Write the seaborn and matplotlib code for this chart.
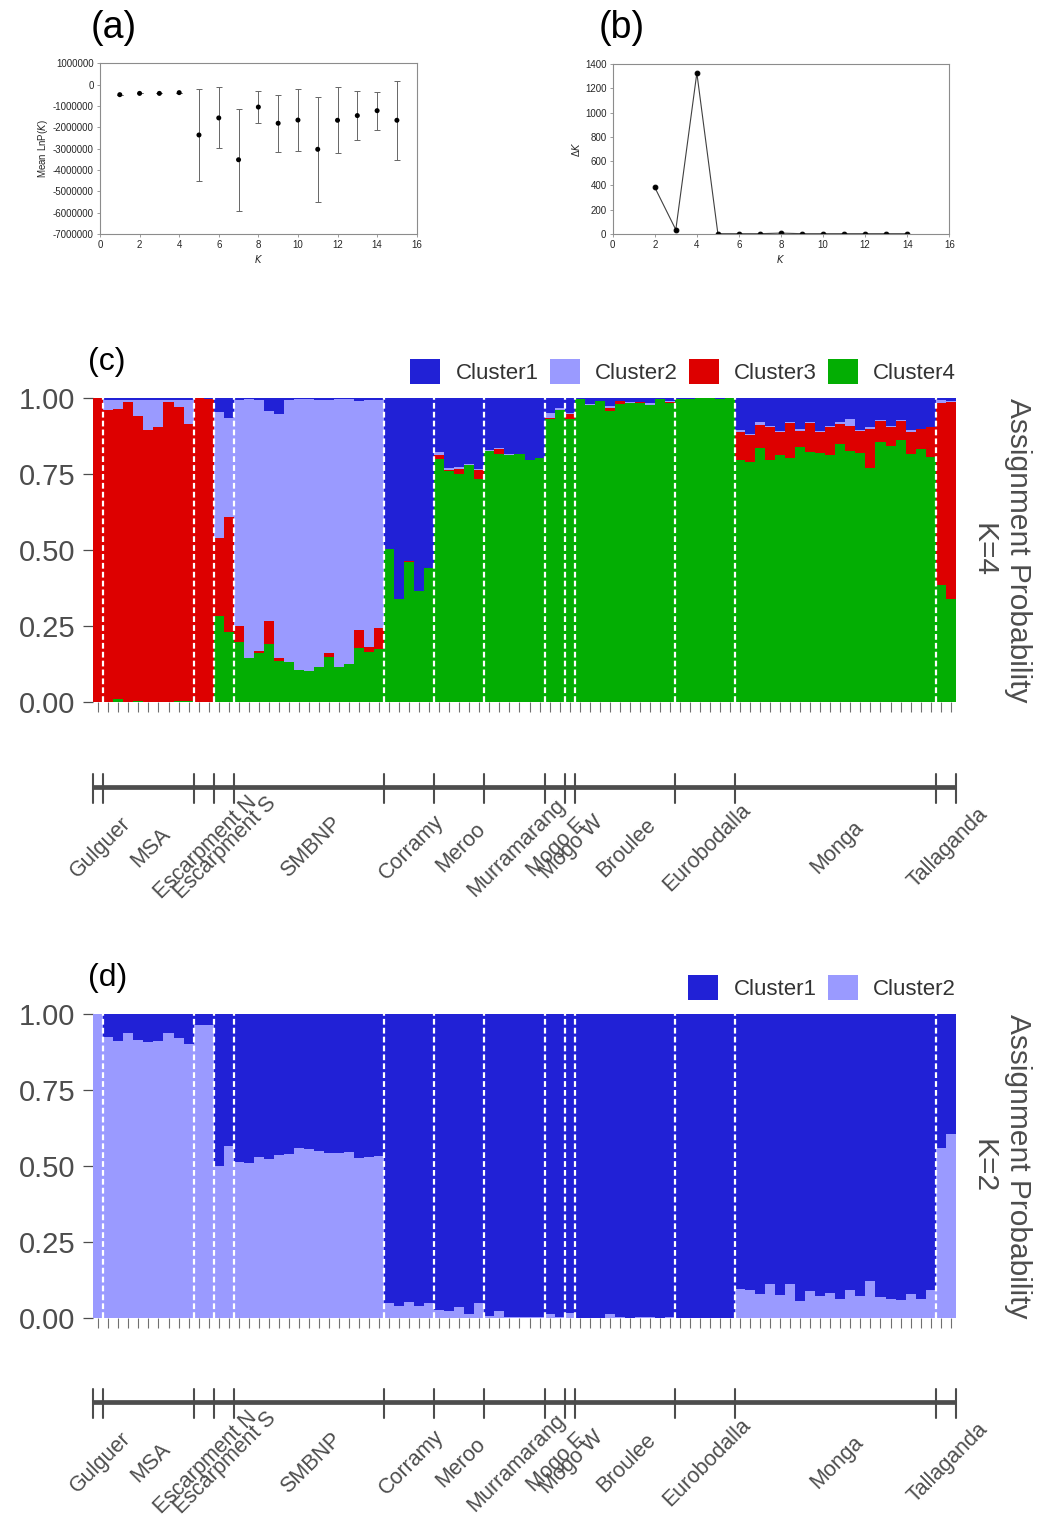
import matplotlib
matplotlib.use("Agg")
import matplotlib.pyplot as plt
import numpy as np
import pandas as pd
import seaborn as sns
from matplotlib.patches import Patch

# ---- panel (a): mean LnP(K) ----
K_A = list(range(1, 16))
MEAN_LNPK = [-470000, -410000, -410000, -375000, -2360000, -1560000, -3520000, -1050000,
             -1810000, -1660000, -3030000, -1670000, -1450000, -1220000, -1670000]
SD_LNPK = [0, 0, 0, 0, 2150000, 1430000, 2380000, 730000,
           1340000, 1440000, 2460000, 1550000, 1140000, 890000, 1840000]

# ---- panel (b): delta K ----
K_B = list(range(2, 15))
DELTA_K = [383, 33, 1328, 0, 0, 0, 5, 0, 0, 0, 0, 0, 0]

# ---- populations ----
POPS = ["Gulguer", "MSA", "Escarpment N", "Escarpment S", "SMBNP", "Corramy", "Meroo",
        "Murramarang", "Mogo E", "Mogo W", "Broulee", "Eurobodalla", "Monga", "Tallaganda"]
POP_N = [1, 9, 2, 2, 15, 5, 5, 6, 2, 1, 10, 6, 20, 2]

# ---- K=4 membership (Cluster1 = remainder) ----
K4_CLUSTER4 = [0,
               0, 0.011, 0, 0.003, 0, 0, 0, 0.003, 0.003,
               0, 0,
               0.284, 0.232,
               0.197, 0.145, 0.163, 0.191, 0.136, 0.134, 0.106, 0.102, 0.115, 0.150, 0.115, 0.125, 0.178, 0.164, 0.175,
               0.503, 0.339, 0.463, 0.366, 0.441,
               0.799, 0.761, 0.752, 0.781, 0.735,
               0.826, 0.818, 0.815, 0.817, 0.797, 0.803,
               0.931, 0.961,
               0.931,
               0.997, 0.978, 0.992, 0.958, 0.981, 0.984, 0.983, 0.977, 0.997, 0.983,
               0.998, 0.999, 1.0, 1.0, 0.999, 1.0,
               0.797, 0.792, 0.838, 0.797, 0.814, 0.805, 0.839, 0.825, 0.820, 0.815,
               0.851, 0.826, 0.820, 0.772, 0.855, 0.843, 0.863, 0.818, 0.832, 0.807,
               0.386, 0.340]
K4_CLUSTER3 = [1.0,
               0.962, 0.953, 0.989, 0.940, 0.896, 0.906, 0.989, 0.970, 0.911,
               1.0, 0.998,
               0.255, 0.379,
               0.054, 0, 0.006, 0.075, 0.011, 0, 0, 0, 0, 0.011, 0, 0, 0.060, 0.017, 0.071,
               0, 0, 0.003, 0, 0,
               0.016, 0.004, 0.017, 0.001, 0.028,
               0.002, 0.015, 0, 0, 0, 0,
               0.005, 0,
               0.019,
               0, 0, 0, 0.011, 0.010, 0, 0.004, 0, 0, 0.004,
               0, 0, 0, 0, 0, 0,
               0.092, 0.087, 0.075, 0.109, 0.075, 0.114, 0.052, 0.095, 0.070, 0.090,
               0.066, 0.084, 0.073, 0.126, 0.070, 0.063, 0.061, 0.071, 0.066, 0.098,
               0.600, 0.649]
K4_CLUSTER2 = [0,
               0.034, 0.032, 0.007, 0.053, 0.100, 0.090, 0.007, 0.023, 0.082,
               0, 0,
               0.415, 0.323,
               0.744, 0.852, 0.827, 0.691, 0.803, 0.862, 0.892, 0.896, 0.881, 0.835, 0.883, 0.873, 0.753, 0.813, 0.750,
               0, 0, 0, 0, 0,
               0.008, 0.006, 0.004, 0.001, 0.003,
               0.002, 0.004, 0.002, 0, 0, 0,
               0.015, 0.008,
               0.002,
               0, 0.002, 0, 0.007, 0, 0.004, 0, 0.006, 0, 0.003,
               0, 0, 0, 0, 0, 0,
               0.007, 0.005, 0.009, 0.004, 0.003, 0.003, 0.009, 0.003, 0.002, 0.003,
               0.004, 0.021, 0.003, 0.006, 0.003, 0.003, 0.003, 0.007, 0.002, 0.002,
               0.009, 0.003]

# ---- K=2 membership (Cluster1 = remainder) ----
K2_CLUSTER2 = [1.0,
               0.924, 0.912, 0.940, 0.914, 0.908, 0.912, 0.940, 0.921, 0.902,
               0.965, 0.965,
               0.501, 0.567,
               0.512, 0.509, 0.530, 0.523, 0.535, 0.540, 0.560, 0.557, 0.549, 0.542, 0.542, 0.546, 0.525, 0.530, 0.533,
               0.047, 0.038, 0.052, 0.038, 0.049,
               0.027, 0.022, 0.035, 0.011, 0.047,
               0.005, 0.023, 0.002, 0.002, 0.003, 0.003,
               0.011, 0.003,
               0.016,
               0, 0, 0, 0.011, 0.002, 0, 0.002, 0.002, 0, 0.002,
               0, 0, 0, 0, 0, 0,
               0.096, 0.091, 0.077, 0.110, 0.074, 0.110, 0.056, 0.087, 0.070, 0.082,
               0.062, 0.091, 0.073, 0.121, 0.068, 0.062, 0.058, 0.077, 0.063, 0.091,
               0.560, 0.604]

C_BLUE = "#2121D6"
C_LILAC = "#9A9AFF"
C_RED = "#DD0000"
C_GREEN = "#03AE03"
C_GREY = "#4D4D4D"

sns.set_theme(style="white")
plt.rcParams['font.family'] = ['Liberation Sans', 'DejaVu Sans']
plt.rcParams['mathtext.fontset'] = 'dejavusans'

FW, FH = 1043, 1517
fig = plt.figure(figsize=(FW / 100, FH / 100), dpi=100)


def px_axes(x0, y0, x1, y1):
    return fig.add_axes([x0 / FW, 1 - y1 / FH, (x1 - x0) / FW, (y1 - y0) / FH])


def style_small(ax):
    for s in ax.spines.values():
        s.set_visible(True)
        s.set_color("#8C8C8C")
        s.set_linewidth(0.8)
    ax.tick_params(axis="both", direction="out", length=2.5, width=0.6, color="#8C8C8C",
                   labelsize=7, labelcolor="#262626", pad=2, bottom=True, left=True)


# ---------- (a) ----------
ax_a = px_axes(100, 63.3, 416.7, 234)
ax_a.errorbar(K_A, MEAN_LNPK, yerr=SD_LNPK, fmt="none", ecolor="#666666",
              elinewidth=0.7, capsize=2, capthick=0.7)
sns.scatterplot(x=K_A, y=MEAN_LNPK, color="black", s=13, edgecolor="none", ax=ax_a, zorder=3)
ax_a.set_xlim(0, 16)
ax_a.set_ylim(-7000000, 1000000)
ax_a.set_xticks(range(0, 17, 2))
ax_a.set_yticks(range(-7000000, 1000001, 1000000))
ax_a.set_yticklabels([str(v) for v in range(-7000000, 1000001, 1000000)])
ax_a.set_xlabel("$K$", fontsize=7, labelpad=2)
ax_a.set_ylabel("Mean LnP($K$)", fontsize=7, labelpad=2)
style_small(ax_a)
fig.text(91 / FW, 1 - 28 / FH, "(a)", fontsize=27, ha="left", va="center", color="black")

# ---------- (b) ----------
ax_b = px_axes(612.7, 64.3, 949.3, 233.7)
sns.lineplot(x=K_B, y=DELTA_K, color="#404040", linewidth=0.8, marker="o", markersize=3.4,
             markerfacecolor="black", markeredgecolor="black", ax=ax_b)
ax_b.set_xlim(0, 16)
ax_b.set_ylim(0, 1400)
ax_b.set_xticks(range(0, 17, 2))
ax_b.set_yticks(range(0, 1401, 200))
ax_b.set_xlabel("$K$", fontsize=7, labelpad=2)
ax_b.set_ylabel("Δ$K$", fontsize=7, labelpad=2)
style_small(ax_b)
fig.text(599 / FW, 1 - 28 / FH, "(b)", fontsize=27, ha="left", va="center", color="black")

# ---------- structure plots ----------
n_ind = sum(POP_N)
idx = np.arange(n_ind)
cum = np.concatenate([[0], np.cumsum(POP_N)])
bounds = cum - 0.5
centers = (cum[:-1] + cum[1:]) / 2 - 0.5


def structure_panel(ax, layers, colors, labels, k_text, tag):
    # layers: cumulative heights drawn from tallest to shortest
    for h, c in zip(layers, colors):
        df = pd.DataFrame({"ind": idx, "q": h})
        sns.barplot(data=df, x="ind", y="q", color=c, width=1.0, saturation=1,
                    errorbar=None, linewidth=0, edgecolor="none", ax=ax, orient="v")
    for b in bounds[1:-1]:
        ax.axvline(b, color="white", lw=1.6, linestyle=(0, (2.6, 1.4)), zorder=5)
    ax.set_xlim(-0.5, n_ind - 0.5)
    ax.set_ylim(0, 1)
    ax.set_yticks([0, 0.25, 0.5, 0.75, 1.0])
    ax.set_yticklabels(["0.00", "0.25", "0.50", "0.75", "1.00"])
    ax.set_xticks(idx)
    ax.set_xticklabels([])
    ax.set_xlabel("")
    ax.set_ylabel("")
    for s in ax.spines.values():
        s.set_visible(False)
    ax.tick_params(axis="y", left=True, length=7, width=0.9, color=C_GREY,
                   labelsize=21, labelcolor=C_GREY, pad=6)
    ax.tick_params(axis="x", bottom=True, length=7, width=0.8, color="#707070")
    # population axis under the plot
    tr = ax.get_xaxis_transform()
    ax.plot([bounds[0], bounds[-1]], [-0.2786, -0.2786], color=C_GREY, lw=3.4,
            transform=tr, clip_on=False, solid_capstyle="butt")
    for b in bounds:
        ax.plot([b, b], [-0.236, -0.331], color=C_GREY, lw=1.5, transform=tr, clip_on=False)
    for name, cx in zip(POPS, centers):
        ax.text(cx + 2.0 / 10.03, -0.478, name, transform=tr, rotation=45, ha="center",
                va="center", rotation_mode="anchor", fontsize=15.5, color=C_GREY)
    # legend
    handles = [Patch(facecolor=c, edgecolor="none") for c in colors]
    leg = ax.legend(handles, labels, ncol=len(labels), loc="lower right",
                    bbox_to_anchor=(1.0, 1.0 + 14 / 304), frameon=False, fontsize=16,
                    handlelength=1.35, handleheight=1.35, handletextpad=0.68,
                    columnspacing=0.5, borderpad=0, borderaxespad=0)
    for t in leg.get_texts():
        t.set_color("#333333")
    ax.text(1.0722, 0.5, "Assignment Probability", transform=ax.transAxes, rotation=-90,
            ha="center", va="center", fontsize=21.5, color=C_GREY)
    ax.text(1.032, 0.5, k_text, transform=ax.transAxes, rotation=-90,
            ha="center", va="center", fontsize=21.5, color=C_GREY)
    ax.text(-0.006, 1.118, tag, transform=ax.transAxes, ha="left", va="center",
            fontsize=23, color="black")


c4 = np.array(K4_CLUSTER4)
c3 = np.array(K4_CLUSTER3)
c2 = np.array(K4_CLUSTER2)
ax_c = px_axes(93.3, 398.3, 955.7, 702.3)
structure_panel(ax_c,
                [np.ones(n_ind), c4 + c3 + c2, c4 + c3, c4],
                [C_BLUE, C_LILAC, C_RED, C_GREEN],
                ["Cluster1", "Cluster2", "Cluster3", "Cluster4"], "K=4", "(c)")

ax_d = px_axes(93.3, 1014.3, 955.7, 1317.7)
structure_panel(ax_d,
                [np.ones(n_ind), np.array(K2_CLUSTER2)],
                [C_BLUE, C_LILAC],
                ["Cluster1", "Cluster2"], "K=2", "(d)")

fig.savefig("out.png", dpi=100)
